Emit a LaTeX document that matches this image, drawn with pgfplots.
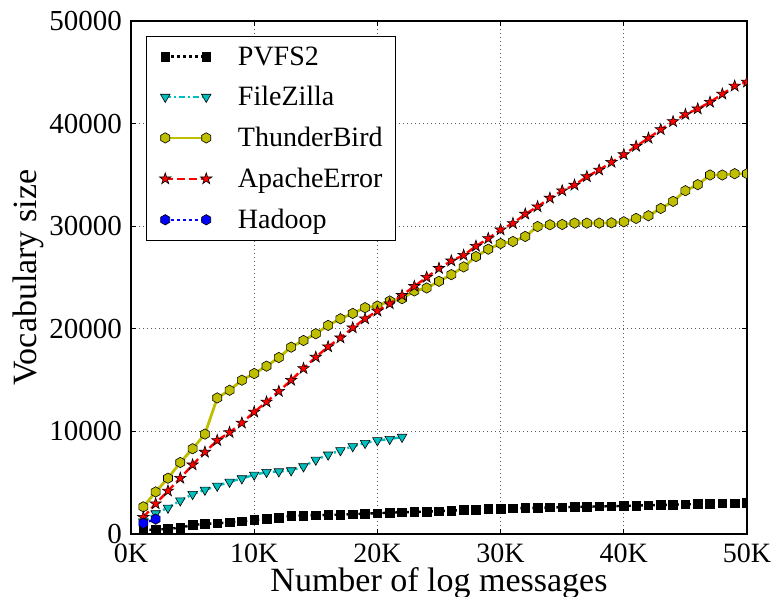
\documentclass[border=0pt]{standalone}
\usepackage{fontspec}
\setmainfont{Liberation Serif}
\newfontfamily\tickfont{Liberation Serif}
\usepackage{pgfplots}
\pgfplotsset{compat=1.18}
\usetikzlibrary{plotmarks}
\definecolor{mpy}{RGB}{191,191,0}
\definecolor{mpc}{RGB}{0,191,191}
\definecolor{mpr}{RGB}{255,0,0}
\definecolor{mpb}{RGB}{0,0,255}
\pgfdeclareplotmark{hexagon}{%
 \pgfpathmoveto{\pgfpointpolar{90}{\pgfplotmarksize}}%
 \pgfpathlineto{\pgfpointpolar{150}{\pgfplotmarksize}}%
 \pgfpathlineto{\pgfpointpolar{210}{\pgfplotmarksize}}%
 \pgfpathlineto{\pgfpointpolar{270}{\pgfplotmarksize}}%
 \pgfpathlineto{\pgfpointpolar{330}{\pgfplotmarksize}}%
 \pgfpathlineto{\pgfpointpolar{30}{\pgfplotmarksize}}%
 \pgfpathclose\pgfusepathqfillstroke}
\pgfdeclareplotmark{fstar}{%
 \pgfpathmoveto{\pgfpointpolar{90}{\pgfplotmarksize}}%
 \pgfpathlineto{\pgfpointpolar{126}{0.382*\pgfplotmarksize}}%
 \pgfpathlineto{\pgfpointpolar{162}{\pgfplotmarksize}}%
 \pgfpathlineto{\pgfpointpolar{198}{0.382*\pgfplotmarksize}}%
 \pgfpathlineto{\pgfpointpolar{234}{\pgfplotmarksize}}%
 \pgfpathlineto{\pgfpointpolar{270}{0.382*\pgfplotmarksize}}%
 \pgfpathlineto{\pgfpointpolar{306}{\pgfplotmarksize}}%
 \pgfpathlineto{\pgfpointpolar{342}{0.382*\pgfplotmarksize}}%
 \pgfpathlineto{\pgfpointpolar{18}{\pgfplotmarksize}}%
 \pgfpathlineto{\pgfpointpolar{54}{0.382*\pgfplotmarksize}}%
 \pgfpathclose\pgfusepathqfillstroke}
\begin{document}
\begin{tikzpicture}
\begin{axis}[
  scale only axis, width=616pt, height=513pt,
  xmin=0, xmax=50, ymin=0, ymax=50000,
  scaled x ticks=false, scaled y ticks=false,
  xtick={0,10,20,30,40,50},
  xticklabels={0K,10K,20K,30K,40K,50K},
  ytick={0,10000,20000,30000,40000,50000},
  yticklabels={0,10000,20000,30000,40000,50000},
  xticklabel style={font=\tickfont\fontsize{28}{33}\selectfont, anchor=north, inner sep=0pt, yshift=-10pt},
  yticklabel style={font=\tickfont\fontsize{29}{34}\selectfont, anchor=east, inner sep=0pt, xshift=-9pt},
  tick align=inside, major tick length=5pt,
  tick style={black, line width=0.8pt},
  axis line style={line width=1.2pt},
  grid=major,
  major grid style={black!65, line width=0.8pt, dash pattern=on 1pt off 3pt},
  xlabel={Number of log messages},
  ylabel={Vocabulary size},
  label style={font=\fontsize{34}{40}\selectfont},
  xlabel style={at={(axis description cs:0.5,-0.0658)}, anchor=north, inner sep=0pt},
  ylabel style={at={(axis description cs:-0.1672,0.5)}, anchor=center, inner sep=0pt},
  clip marker paths=true,
  legend style={at={(axis description cs:0.0244,0.9708)}, anchor=north west,
    font=\fontsize{28}{33}\selectfont, draw=black, line width=1pt, fill=white,
    inner xsep=13pt, inner ysep=10pt, row sep=20pt, column sep=26pt,
    nodes={inner sep=0pt}},
  legend cell align=left,
  legend image code/.code={\draw[#1] plot coordinates {(0pt,0pt) (41pt,0pt)};},
]
\addplot[black, line width=2.4pt, dash pattern=on 2.5pt off 3.5pt,
  mark=square*, mark size=4.3pt, mark options={solid, fill=black, draw=black, line width=0.6pt}]
coordinates {
(1,400)(2,420)(3,500)(4,620)(5,880)(6,980)(7,1040)(8,1140)(9,1240)(10,1370)
(11,1500)(12,1600)(13,1760)(14,1790)(15,1820)(16,1860)(17,1890)(18,1920)(19,1990)(20,2020)
(21,2080)(22,2120)(23,2150)(24,2180)(25,2230)(26,2280)(27,2330)(28,2380)(29,2430)(30,2480)
(31,2510)(32,2540)(33,2560)(34,2590)(35,2610)(36,2640)(37,2660)(38,2690)(39,2710)(40,2740)
(41,2770)(42,2800)(43,2830)(44,2860)(45,2890)(46,2920)(47,2950)(48,2980)(49,3010)(50,3050)};
\addlegendentry{PVFS2}
\addplot[mpc, line width=2.4pt, dash pattern=on 6pt off 3pt on 2pt off 3pt,
  mark=triangle*, mark size=5.5pt, mark options={solid, rotate=180, fill=mpc, draw=black, line width=0.6pt}]
coordinates {
(1,1200)(2,2000)(3,2550)(4,3260)(5,3880)(6,4300)(7,4690)(8,5080)(9,5410)(10,5770)
(11,6030)(12,6090)(13,6190)(14,6580)(15,7230)(16,7720)(17,8150)(18,8540)(19,8860)(20,9120)
(21,9250)(22,9450)};
\addlegendentry{FileZilla}
\addplot[mpy, line width=2.8pt, solid,
  mark=hexagon, mark size=5.2pt, mark options={solid, fill=mpy, draw=black, line width=0.6pt}]
coordinates {
(1,2650)(2,4100)(3,5440)(4,6970)(5,8310)(6,9740)(7,13260)(8,14010)(9,14990)(10,15640)
(11,16360)(12,17200)(13,18210)(14,18860)(15,19520)(16,20330)(17,20980)(18,21500)(19,22060)(20,22220)
(21,22710)(22,22940)(23,23690)(24,23980)(25,24630)(26,25280)(27,26030)(28,27040)(29,27760)(30,28310)
(31,28510)(32,29000)(33,29970)(34,30140)(35,30170)(36,30300)(37,30300)(38,30300)(39,30330)(40,30430)
(41,30760)(42,31020)(43,31730)(44,32420)(45,33460)(46,34050)(47,34990)(48,34990)(49,35120)(50,35120)};
\addlegendentry{ThunderBird}
\addplot[mpr, line width=2.4pt, dash pattern=on 8pt off 4pt,
  mark=fstar, mark size=6pt, mark options={solid, fill=mpr, draw=black, line width=0.6pt}]
coordinates {
(1,1630)(2,2950)(3,4200)(4,5440)(5,6740)(6,7980)(7,9120)(8,9900)(9,10820)(10,11890)
(11,12870)(12,13910)(13,14990)(14,16130)(15,17240)(16,18250)(17,19120)(18,20100)(19,20980)(20,21730)
(21,22450)(22,23260)(23,24140)(24,25020)(25,25890)(26,26620)(27,27170)(28,28050)(29,28800)(30,29650)
(31,30270)(32,31180)(33,31900)(34,32740)(35,33460)(36,34010)(37,34830)(38,35480)(39,36230)(40,36980)
(41,37790)(42,38580)(43,39420)(44,40200)(45,40890)(46,41440)(47,42090)(48,42880)(49,43660)(50,44050)};
\addlegendentry{ApacheError}
\addplot[mpb, line width=2.4pt, dash pattern=on 2.5pt off 3.5pt,
  mark=hexagon, mark size=5.2pt, mark options={solid, fill=mpb, draw=black, line width=0.6pt}]
coordinates {(1,1050)(2,1450)};
\addlegendentry{Hadoop}
\end{axis}
\pgfresetboundingbox
\path (-131pt,-62pt) rectangle (644pt,534pt);
\end{tikzpicture}
\end{document}
